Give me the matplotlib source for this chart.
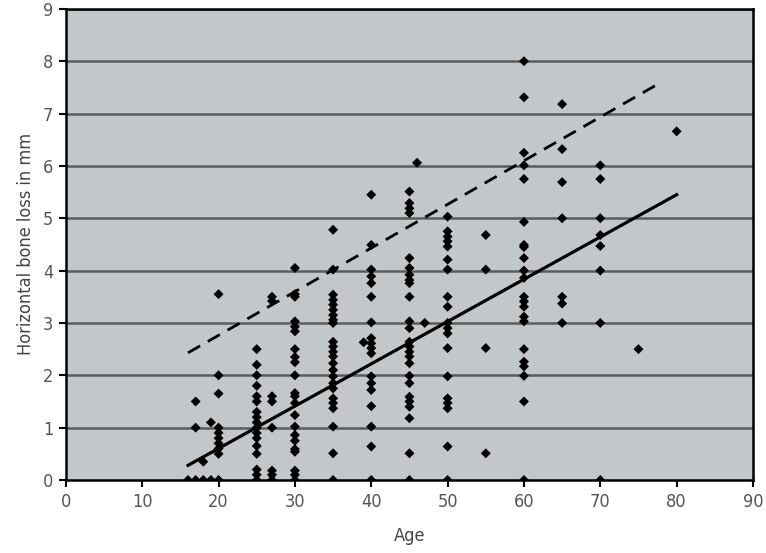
import matplotlib.pyplot as plt

# horizontal bone loss (mm) read column by column, one list per age
loss_16 = [0]
loss_17 = [1.5, 1.0, 0]
loss_18 = [0.35, 0]
loss_19 = [1.1, 0]
loss_20 = [3.55, 2.0, 1.65, 1.0, 0.9, 0.8, 0.7, 0.6, 0.5, 0]
loss_25 = [2.5, 2.2, 2.0, 1.8, 1.6, 1.5, 1.3, 1.2, 1.1, 1.0, 0.9, 0.8, 0.65, 0.5, 0.2, 0.1, 0]
loss_27 = [3.5, 3.42, 1.6, 1.5, 1.0, 0.18, 0.1, 0]
loss_30 = [4.05, 3.55, 3.5, 3.03, 2.93, 2.84, 2.5, 2.35, 2.25, 2.0, 1.66, 1.6, 1.47,
           1.24, 1.02, 0.86, 0.75, 0.59, 0.54, 0.18, 0.1, 0]
loss_35 = [4.78, 4.02, 3.54, 3.44, 3.35, 3.25, 3.15, 3.06, 3.0, 2.64, 2.55, 2.45, 2.36,
           2.23, 2.1, 1.98, 1.85, 1.75, 1.56, 1.47, 1.37, 1.02, 0.51, 0]
loss_39 = [2.63]
loss_40 = [5.45, 4.49, 4.02, 3.89, 3.76, 3.5, 3.01, 2.71, 2.61, 2.52, 2.42, 1.98, 1.85,
           1.72, 1.41, 1.02, 0.64, 0]
loss_45 = [5.51, 5.29, 5.19, 5.1, 4.24, 4.05, 3.92, 3.82, 3.76, 3.5, 3.03, 2.9, 2.64,
           2.55, 2.45, 2.36, 2.23, 1.99, 1.85, 1.59, 1.5, 1.4, 1.18, 0.51, 0]
loss_46 = [6.06]
loss_47 = [3.0]
loss_50 = [5.03, 4.75, 4.65, 4.56, 4.46, 4.21, 4.02, 3.5, 3.31, 3.0, 2.9, 2.8, 2.52,
           1.98, 1.56, 1.47, 1.37, 0.64, 0]
loss_55 = [4.68, 4.02, 2.52, 0.51]
loss_60 = [8.0, 7.31, 6.25, 6.01, 5.75, 4.93, 4.49, 4.45, 4.24, 4.0, 3.86, 3.5, 3.41,
           3.31, 3.12, 3.03, 2.5, 2.26, 2.17, 1.99, 1.5, 0]
loss_65 = [7.18, 6.32, 5.69, 5.0, 3.5, 3.37, 3.0]
loss_70 = [6.01, 5.75, 5.0, 4.68, 4.47, 4.0, 3.0, 0]
loss_75 = [2.5]
loss_80 = [6.66]

columns = [
    (16, loss_16), (17, loss_17), (18, loss_18), (19, loss_19), (20, loss_20),
    (25, loss_25), (27, loss_27), (30, loss_30), (35, loss_35), (39, loss_39),
    (40, loss_40), (45, loss_45), (46, loss_46), (47, loss_47), (50, loss_50),
    (55, loss_55), (60, loss_60), (65, loss_65), (70, loss_70), (75, loss_75),
    (80, loss_80),
]

# regression line (solid) and upper line (dashed), end points
fit_x = [16, 80]
fit_y = [0.28, 5.45]
upper_x = [16, 78]
upper_y = [2.43, 7.6]

x_ticks = list(range(0, 100, 10))
y_ticks = list(range(0, 10))

plt.rcParams['font.family'] = ['DejaVu Sans']
plt.rcParams['font.stretch'] = 'condensed'

fig = plt.figure(figsize=(7.66, 5.53), dpi=100)
ax = fig.add_axes([0.086, 0.132, 0.897, 0.852])
ax.set_facecolor('#c4c7ca')

# horizontal grid lines
for y in y_ticks[1:]:
    ax.axhline(y, color='#5a5c5e', linewidth=1.8, zorder=1)

xs = []
ys = []
for age, vals in columns:
    xs += [age] * len(vals)
    ys += vals
ax.scatter(xs, ys, marker='D', s=26, color='black', edgecolors='none', zorder=3)

ax.plot(fit_x, fit_y, color='black', linewidth=2.3, zorder=4)
ax.plot(upper_x, upper_y, color='black', linewidth=2.0, linestyle=(0, (5, 3.2)), zorder=4)

ax.set_xlim(0, 90)
ax.set_ylim(0, 9)
ax.set_xticks(x_ticks)
ax.set_yticks(y_ticks)
ax.tick_params(direction='out', length=5, width=1.5, color='black',
               labelsize=13, labelcolor='#555555', pad=4)

for s in ax.spines.values():
    s.set_color('black')
    s.set_linewidth(1.8)

ax.set_xlabel('Age', fontsize=13, color='#444444', labelpad=12)
ax.set_ylabel('Horizontal bone loss in mm', fontsize=13, color='#444444', labelpad=6)

plt.savefig('out.png', dpi=100)
plt.close()
